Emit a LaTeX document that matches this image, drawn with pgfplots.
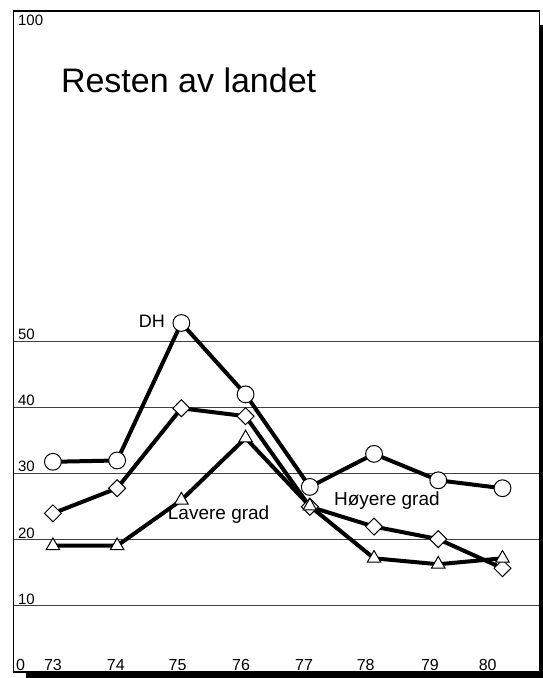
\documentclass[border=0pt]{standalone}
\usepackage{pgfplots}
\pgfplotsset{compat=1.18}
\usepackage{fontspec}
\setmainfont{Liberation Sans}
\tikzset{
  ylab/.style={anchor=south west, inner sep=0pt, font=\fontsize{7.5}{9}\selectfont, xshift=2pt, yshift=0.6pt},
  xlab/.style={anchor=south, inner sep=0pt, font=\fontsize{8}{9}\selectfont, yshift=0.6pt},
}
\begin{document}
\begin{tikzpicture}
\path (-4pt,-3pt) rectangle (264.5pt,336pt);
\begin{axis}[
  scale only axis,
  width=263pt, height=330.5pt,
  xmin=72.39, xmax=80.58,
  ymin=0, ymax=100,
  xtick=\empty,
  ytick={10,20,30,40,50},
  yticklabels=\empty,
  major tick length=0pt,
  ymajorgrids,
  grid style={black!75, line width=0.5pt},
  axis line style={black, line width=0.6pt},
  clip=false,
]
\addplot[black, line width=2pt, mark=*, mark size=4.2pt, mark options={fill=white, draw=black, line width=0.5pt}]
  coordinates {(73,31.8) (74,32.0) (75,52.8) (76,42.0) (77,28.0) (78,33.0) (79,29.0) (80,27.8)};
\addplot[black, line width=2pt, mark=square*, mark size=3pt, mark options={rotate=45, fill=white, draw=black, line width=0.5pt}]
  coordinates {(73,24.0) (74,27.8) (75,39.9) (76,38.7) (77,25.0) (78,22.0) (79,20.1) (80,15.7)};
\addplot[black, line width=2pt, mark=triangle*, mark size=3.9pt, mark options={fill=white, draw=black, line width=0.5pt}]
  coordinates {(73,19.1) (74,19.1) (75,26.0) (76,35.4) (77,25.1) (78,17.2) (79,16.3) (80,17.2)};
% y tick labels
\node[anchor=north west, inner sep=0pt, font=\fontsize{7.5}{9}\selectfont, xshift=2pt, yshift=-2pt] at (axis cs:72.39,100) {100};
\node[ylab] at (axis cs:72.39,50) {50};
\node[ylab] at (axis cs:72.39,40) {40};
\node[ylab] at (axis cs:72.39,30) {30};
\node[ylab] at (axis cs:72.39,20) {20};
\node[ylab] at (axis cs:72.39,10) {10};
\node[anchor=south west, inner sep=0pt, font=\fontsize{8}{9}\selectfont, xshift=1pt, yshift=0.6pt] at (axis cs:72.39,0) {0};
% x tick labels
\node[xlab] at (axis cs:73.0,0) {73};
\node[xlab] at (axis cs:73.98,0) {74};
\node[xlab] at (axis cs:74.94,0) {75};
\node[xlab] at (axis cs:75.93,0) {76};
\node[xlab] at (axis cs:76.91,0) {77};
\node[xlab] at (axis cs:77.87,0) {78};
\node[xlab] at (axis cs:78.87,0) {79};
\node[xlab] at (axis cs:79.77,0) {80};
% annotations
\node[anchor=base west, inner sep=0pt, font=\fontsize{17}{20}\selectfont] at (axis cs:73.12,87.7) {Resten av landet};
\node[inner sep=0pt, font=\fontsize{9}{10}\selectfont] at (axis cs:74.54,53.1) {DH};
\node[inner sep=0pt, font=\fontsize{9.5}{11}\selectfont] at (axis cs:75.58,23.75) {Lavere grad};
\node[inner sep=0pt, font=\fontsize{9.5}{11}\selectfont] at (axis cs:78.2,25.9) {Høyere grad};
\end{axis}
\fill[black] (6pt,-3pt) rectangle (264.5pt,0pt);
\fill[black] (263.3pt,-3pt) rectangle (264.5pt,323.5pt);
\end{tikzpicture}
\end{document}
